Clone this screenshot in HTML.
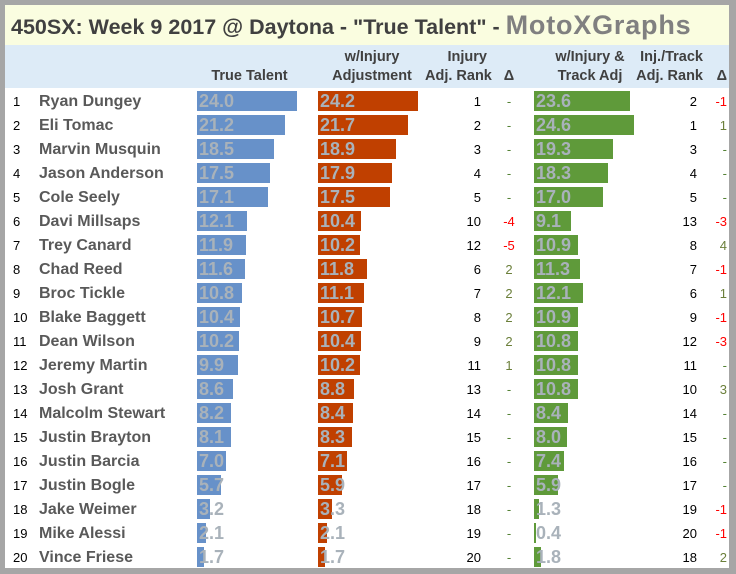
<!DOCTYPE html>
<html><head><meta charset="utf-8"><style>
body{margin:0;width:736px;height:574px;background:#a6a6a6;font-family:"Liberation Sans",sans-serif;position:relative;overflow:hidden}
#w{position:absolute;left:5px;top:5px;width:724px;height:563px;background:#fff}
#t{position:absolute;left:0;top:0;width:724px;height:40px;background:#fafde0;font-weight:bold;font-size:21.5px;color:#404040;line-height:40px;padding-left:6px;box-sizing:border-box;white-space:nowrap}
#t b{color:#808080;font-size:27px;letter-spacing:0.8px}
#h{position:absolute;left:0;top:40px;width:724px;height:43px;background:#ddebf7}
.hd{position:absolute;font-weight:bold;font-size:14.5px;color:#404040;line-height:19px;text-align:center;white-space:nowrap}
.r{position:absolute;left:0;width:724px;height:24px;font-size:14px}
.r span{position:absolute;top:1px;line-height:24px;white-space:nowrap}
.n{left:8px;width:20px;color:#000;font-size:13px}
.nm{left:34px;font-weight:bold;font-size:16px;color:#595959}
.b{top:2px!important;height:20px;line-height:20px!important}
.b i{position:absolute;left:0;top:0;height:20px}
.b em{position:absolute;left:2px;top:0;font-style:normal;font-weight:bold;font-size:18px;color:#a9b2ba;line-height:21px}
.b1{left:192px}.b1 i{background:#6791c9}
.b2{left:313px}.b2 i{background:#c04000}
.b3{left:529px}.b3 i{background:#5f9a3a}
.k1{left:440px;width:36px;text-align:right;color:#000;font-size:13px}
.d1{left:492px;width:24px;text-align:center;font-size:13px}
.k2{left:656px;width:36px;text-align:right;color:#000;font-size:13px}
.d2{left:700px;width:22px;text-align:right;font-size:13px}
.z{color:#548235}.m{color:#ff0000}.p{color:#6b7f3a}
</style></head><body><div id="w">
<div id="t">450SX: Week 9 2017 @ Daytona - "True Talent" - <b>MotoXGraphs</b></div>
<div id="h">
<div class="hd" style="left:192px;width:105px;top:22px">True Talent</div>
<div class="hd" style="left:313px;width:108px;top:3px">w/Injury<br>Adjustment</div>
<div class="hd" style="left:420px;width:62px;top:3px;text-align:right">Injury<br>Adj. Rank</div>
<div class="hd" style="left:492px;width:24px;top:22px">Δ</div>
<div class="hd" style="left:529px;width:112px;top:3px">w/Injury &amp;<br>Track Adj</div>
<div class="hd" style="left:630px;width:68px;top:3px;text-align:right">Inj./Track<br>Adj. Rank</div>
<div class="hd" style="left:700px;width:22px;top:22px;text-align:right">Δ</div>
</div>

<div class="r" style="top:84px"><span class="n">1</span><span class="nm">Ryan Dungey</span><span class="b b1"><i style="width:100px"></i><em>24.0</em></span><span class="b b2"><i style="width:100px"></i><em>24.2</em></span><span class="k1">1</span><span class="d1 z">-</span><span class="b b3"><i style="width:96px"></i><em>23.6</em></span><span class="k2">2</span><span class="d2 m">-1</span></div>
<div class="r" style="top:108px"><span class="n">2</span><span class="nm">Eli Tomac</span><span class="b b1"><i style="width:88px"></i><em>21.2</em></span><span class="b b2"><i style="width:90px"></i><em>21.7</em></span><span class="k1">2</span><span class="d1 z">-</span><span class="b b3"><i style="width:100px"></i><em>24.6</em></span><span class="k2">1</span><span class="d2 p">1</span></div>
<div class="r" style="top:132px"><span class="n">3</span><span class="nm">Marvin Musquin</span><span class="b b1"><i style="width:77px"></i><em>18.5</em></span><span class="b b2"><i style="width:78px"></i><em>18.9</em></span><span class="k1">3</span><span class="d1 z">-</span><span class="b b3"><i style="width:79px"></i><em>19.3</em></span><span class="k2">3</span><span class="d2 z">-</span></div>
<div class="r" style="top:156px"><span class="n">4</span><span class="nm">Jason Anderson</span><span class="b b1"><i style="width:73px"></i><em>17.5</em></span><span class="b b2"><i style="width:74px"></i><em>17.9</em></span><span class="k1">4</span><span class="d1 z">-</span><span class="b b3"><i style="width:74px"></i><em>18.3</em></span><span class="k2">4</span><span class="d2 z">-</span></div>
<div class="r" style="top:180px"><span class="n">5</span><span class="nm">Cole Seely</span><span class="b b1"><i style="width:71px"></i><em>17.1</em></span><span class="b b2"><i style="width:72px"></i><em>17.5</em></span><span class="k1">5</span><span class="d1 z">-</span><span class="b b3"><i style="width:69px"></i><em>17.0</em></span><span class="k2">5</span><span class="d2 z">-</span></div>
<div class="r" style="top:204px"><span class="n">6</span><span class="nm">Davi Millsaps</span><span class="b b1"><i style="width:50px"></i><em>12.1</em></span><span class="b b2"><i style="width:43px"></i><em>10.4</em></span><span class="k1">10</span><span class="d1 m">-4</span><span class="b b3"><i style="width:37px"></i><em>9.1</em></span><span class="k2">13</span><span class="d2 m">-3</span></div>
<div class="r" style="top:228px"><span class="n">7</span><span class="nm">Trey Canard</span><span class="b b1"><i style="width:49px"></i><em>11.9</em></span><span class="b b2"><i style="width:42px"></i><em>10.2</em></span><span class="k1">12</span><span class="d1 m">-5</span><span class="b b3"><i style="width:44px"></i><em>10.9</em></span><span class="k2">8</span><span class="d2 p">4</span></div>
<div class="r" style="top:252px"><span class="n">8</span><span class="nm">Chad Reed</span><span class="b b1"><i style="width:48px"></i><em>11.6</em></span><span class="b b2"><i style="width:49px"></i><em>11.8</em></span><span class="k1">6</span><span class="d1 p">2</span><span class="b b3"><i style="width:46px"></i><em>11.3</em></span><span class="k2">7</span><span class="d2 m">-1</span></div>
<div class="r" style="top:276px"><span class="n">9</span><span class="nm">Broc Tickle</span><span class="b b1"><i style="width:45px"></i><em>10.8</em></span><span class="b b2"><i style="width:46px"></i><em>11.1</em></span><span class="k1">7</span><span class="d1 p">2</span><span class="b b3"><i style="width:49px"></i><em>12.1</em></span><span class="k2">6</span><span class="d2 p">1</span></div>
<div class="r" style="top:300px"><span class="n">10</span><span class="nm">Blake Baggett</span><span class="b b1"><i style="width:43px"></i><em>10.4</em></span><span class="b b2"><i style="width:44px"></i><em>10.7</em></span><span class="k1">8</span><span class="d1 p">2</span><span class="b b3"><i style="width:44px"></i><em>10.9</em></span><span class="k2">9</span><span class="d2 m">-1</span></div>
<div class="r" style="top:324px"><span class="n">11</span><span class="nm">Dean Wilson</span><span class="b b1"><i style="width:42px"></i><em>10.2</em></span><span class="b b2"><i style="width:43px"></i><em>10.4</em></span><span class="k1">9</span><span class="d1 p">2</span><span class="b b3"><i style="width:44px"></i><em>10.8</em></span><span class="k2">12</span><span class="d2 m">-3</span></div>
<div class="r" style="top:348px"><span class="n">12</span><span class="nm">Jeremy Martin</span><span class="b b1"><i style="width:41px"></i><em>9.9</em></span><span class="b b2"><i style="width:42px"></i><em>10.2</em></span><span class="k1">11</span><span class="d1 p">1</span><span class="b b3"><i style="width:44px"></i><em>10.8</em></span><span class="k2">11</span><span class="d2 z">-</span></div>
<div class="r" style="top:372px"><span class="n">13</span><span class="nm">Josh Grant</span><span class="b b1"><i style="width:36px"></i><em>8.6</em></span><span class="b b2"><i style="width:36px"></i><em>8.8</em></span><span class="k1">13</span><span class="d1 z">-</span><span class="b b3"><i style="width:44px"></i><em>10.8</em></span><span class="k2">10</span><span class="d2 p">3</span></div>
<div class="r" style="top:396px"><span class="n">14</span><span class="nm">Malcolm Stewart</span><span class="b b1"><i style="width:34px"></i><em>8.2</em></span><span class="b b2"><i style="width:35px"></i><em>8.4</em></span><span class="k1">14</span><span class="d1 z">-</span><span class="b b3"><i style="width:34px"></i><em>8.4</em></span><span class="k2">14</span><span class="d2 z">-</span></div>
<div class="r" style="top:420px"><span class="n">15</span><span class="nm">Justin Brayton</span><span class="b b1"><i style="width:34px"></i><em>8.1</em></span><span class="b b2"><i style="width:34px"></i><em>8.3</em></span><span class="k1">15</span><span class="d1 z">-</span><span class="b b3"><i style="width:33px"></i><em>8.0</em></span><span class="k2">15</span><span class="d2 z">-</span></div>
<div class="r" style="top:444px"><span class="n">16</span><span class="nm">Justin Barcia</span><span class="b b1"><i style="width:29px"></i><em>7.0</em></span><span class="b b2"><i style="width:29px"></i><em>7.1</em></span><span class="k1">16</span><span class="d1 z">-</span><span class="b b3"><i style="width:30px"></i><em>7.4</em></span><span class="k2">16</span><span class="d2 z">-</span></div>
<div class="r" style="top:468px"><span class="n">17</span><span class="nm">Justin Bogle</span><span class="b b1"><i style="width:24px"></i><em>5.7</em></span><span class="b b2"><i style="width:24px"></i><em>5.9</em></span><span class="k1">17</span><span class="d1 z">-</span><span class="b b3"><i style="width:24px"></i><em>5.9</em></span><span class="k2">17</span><span class="d2 z">-</span></div>
<div class="r" style="top:492px"><span class="n">18</span><span class="nm">Jake Weimer</span><span class="b b1"><i style="width:13px"></i><em>3.2</em></span><span class="b b2"><i style="width:14px"></i><em>3.3</em></span><span class="k1">18</span><span class="d1 z">-</span><span class="b b3"><i style="width:5px"></i><em>1.3</em></span><span class="k2">19</span><span class="d2 m">-1</span></div>
<div class="r" style="top:516px"><span class="n">19</span><span class="nm">Mike Alessi</span><span class="b b1"><i style="width:9px"></i><em>2.1</em></span><span class="b b2"><i style="width:9px"></i><em>2.1</em></span><span class="k1">19</span><span class="d1 z">-</span><span class="b b3"><i style="width:2px"></i><em>0.4</em></span><span class="k2">20</span><span class="d2 m">-1</span></div>
<div class="r" style="top:540px"><span class="n">20</span><span class="nm">Vince Friese</span><span class="b b1"><i style="width:7px"></i><em>1.7</em></span><span class="b b2"><i style="width:7px"></i><em>1.7</em></span><span class="k1">20</span><span class="d1 z">-</span><span class="b b3"><i style="width:7px"></i><em>1.8</em></span><span class="k2">18</span><span class="d2 p">2</span></div>
</div></body></html>
